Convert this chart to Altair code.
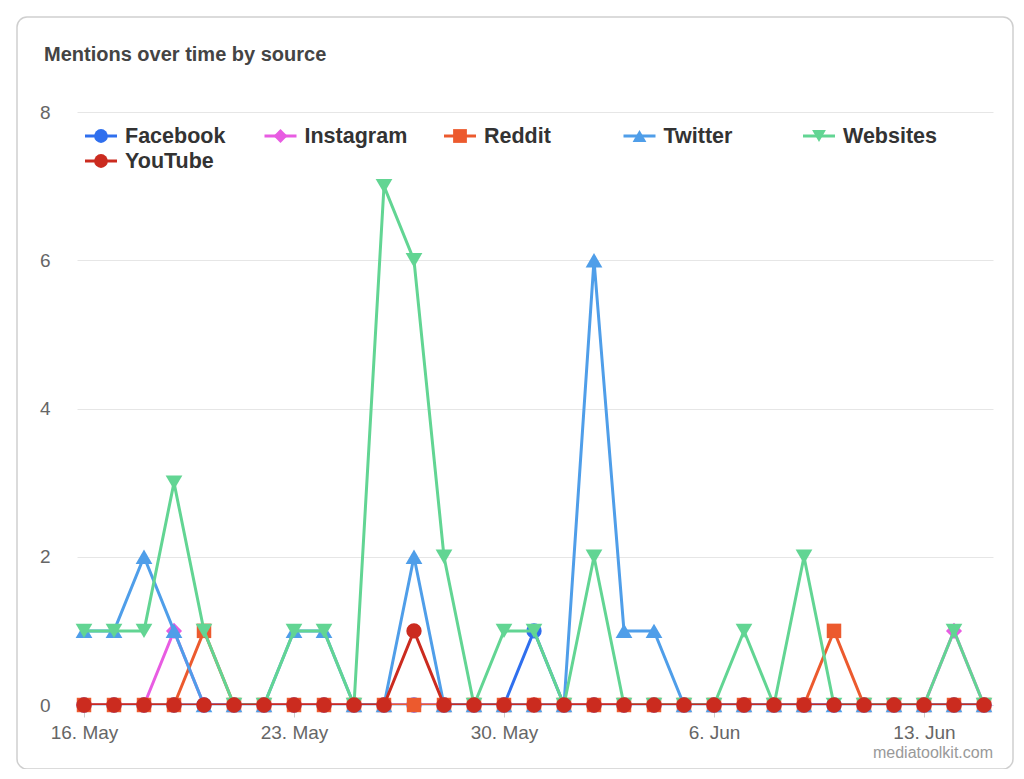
import altair as alt
import pandas as pd

# ---- data ----
dates = [f"2021-05-{d:02d}" for d in range(16, 32)] + [f"2021-06-{d:02d}" for d in range(1, 16)]

facebook = [0, 0, 0, 0, 0, 0, 0, 0, 0, 0, 0, 0, 0, 0, 0, 1, 0, 0, 0, 0, 0, 0, 0, 0, 0, 0, 0, 0, 0, 0, 0]
instagram = [0, 0, 0, 1, 0, 0, 0, 0, 0, 0, 0, 0, 0, 0, 0, 0, 0, 0, 0, 0, 0, 0, 0, 0, 0, 0, 0, 0, 0, 1, 0]
reddit = [0, 0, 0, 0, 1, 0, 0, 0, 0, 0, 0, 0, 0, 0, 0, 0, 0, 0, 0, 0, 0, 0, 0, 0, 0, 1, 0, 0, 0, 0, 0]
twitter = [1, 1, 2, 1, 0, 0, 0, 1, 1, 0, 0, 2, 0, 0, 0, 0, 0, 6, 1, 1, 0, 0, 0, 0, 0, 0, 0, 0, 0, 0, 0]
websites = [1, 1, 1, 3, 1, 0, 0, 1, 1, 0, 7, 6, 2, 0, 1, 1, 0, 2, 0, 0, 0, 0, 1, 0, 2, 0, 0, 0, 0, 1, 0]
youtube = [0, 0, 0, 0, 0, 0, 0, 0, 0, 0, 0, 1, 0, 0, 0, 0, 0, 0, 0, 0, 0, 0, 0, 0, 0, 0, 0, 0, 0, 0, 0]

series_names = ["Facebook", "Instagram", "Reddit", "Twitter", "Websites", "YouTube"]
series_values = [facebook, instagram, reddit, twitter, websites, youtube]
series_colors = ["#2f6fee", "#e85ce2", "#ec5a2e", "#4f9ee9", "#62d593", "#cb2b1f"]
series_shapes = ["circle", "diamond", "square", "triangle-up", "triangle-down", "circle"]
series_sizes = [235, 260, 210, 280, 280, 235]

title_text = "Mentions over time by source"
credit_text = "mediatoolkit.com"
tick_dates = [(2021, 5, 16), (2021, 5, 23), (2021, 5, 30), (2021, 6, 6), (2021, 6, 13)]
y_ticks = [0, 2, 4, 6, 8]

FONT = "Liberation Sans"

rows = []
for name, vals in zip(series_names, series_values):
    for d, v in zip(dates, vals):
        rows.append({"date": d, "value": v, "source": name})
df = pd.DataFrame(rows)

x_enc = alt.X(
    "date:T",
    scale=alt.Scale(
        type="utc",
        domain=[
            alt.DateTime(year=2021, month=5, date=15, hours=18, minutes=24, utc=True),
            alt.DateTime(year=2021, month=6, date=15, hours=7, minutes=12, utc=True),
        ],
    ),
    axis=alt.Axis(
        values=[alt.DateTime(year=y, month=m, date=d, utc=True) for (y, m, d) in tick_dates],
        labelExpr="utcFormat(datum.value, '%-d. %b')",
        grid=False,
        domain=True,
        domainColor="#ccd6eb",
        ticks=True,
        tickColor="#cccccc",
        tickSize=12,
        labelFontSize=19,
        labelFont=FONT,
        labelColor="#666666",
        labelPadding=6,
        title=None,
    ),
)
y_enc = alt.Y(
    "value:Q",
    scale=alt.Scale(domain=[0, 8], nice=False),
    axis=alt.Axis(
        values=y_ticks,
        grid=True,
        gridColor="#e6e6e6",
        gridWidth=1,
        domain=False,
        ticks=False,
        labelFontSize=19,
        labelFont=FONT,
        labelColor="#666666",
        labelPadding=27,
        title=None,
    ),
)

base = alt.Chart(df)
layers = []

# card frame
card = alt.Chart(pd.DataFrame({"k": [0]})).mark_rect(
    filled=False, stroke="#cfcfcf", strokeWidth=1.5, cornerRadius=10, clip=False
).encode(x=alt.value(-60), x2=alt.value(936), y=alt.value(-95), y2=alt.value(657))
layers.append(card)

# title
title = alt.Chart(pd.DataFrame({"t": [title_text]})).mark_text(
    align="left", baseline="middle", font=FONT, fontSize=20, fontWeight="bold", color="#444444"
).encode(x=alt.value(-33), y=alt.value(-57), text="t:N")
layers.append(title)

# credit
credit = alt.Chart(pd.DataFrame({"t": [credit_text]})).mark_text(
    align="right", baseline="middle", font=FONT, fontSize=16, color="#999999"
).encode(x=alt.value(916), y=alt.value(641), text="t:N")
layers.append(credit)

# series
for name, color, shape, size in zip(series_names, series_colors, series_shapes, series_sizes):
    sub = base.transform_filter(alt.datum.source == name)
    line = sub.mark_line(color=color, strokeWidth=3, clip=True).encode(x=x_enc, y=y_enc)
    pts = sub.mark_point(
        shape=shape, filled=True, fill=color, color=color, opacity=1, size=size, clip=False
    ).encode(x=x_enc, y=y_enc)
    layers += [line, pts]

# legend
for i, (name, color, shape) in enumerate(zip(series_names, series_colors, series_shapes)):
    col, row = i % 5, i // 5
    mx = 24 + 179.5 * col
    my = 24 + 25 * row
    ldf = pd.DataFrame({"t": [name]})
    lg = alt.Chart(ldf)
    layers.append(
        lg.mark_rule(color=color, strokeWidth=3).encode(
            x=alt.value(mx - 16), x2=alt.value(mx + 16), y=alt.value(my)
        )
    )
    layers.append(
        lg.mark_point(shape=shape, filled=True, fill=color, color=color, opacity=1, size=190).encode(
            x=alt.value(mx), y=alt.value(my)
        )
    )
    layers.append(
        lg.mark_text(
            align="left", baseline="middle", font=FONT, fontSize=21.5, fontWeight="bold", color="#333333"
        ).encode(x=alt.value(mx + 24), y=alt.value(my + 1), text="t:N")
    )

chart = (
    alt.layer(*layers)
    .properties(
        width=916,
        height=593,
        padding={"left": 69, "top": 104, "right": 21, "bottom": 64},
        autosize=alt.AutoSizeParams(type="none"),
        background="white",
    )
    .configure_view(strokeWidth=0)
)

chart.save("out.html", embed_options={"renderer": "svg", "actions": False})
